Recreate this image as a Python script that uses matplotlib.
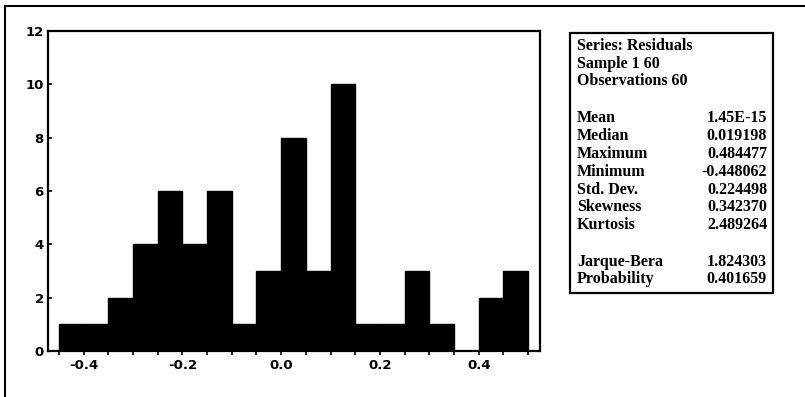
import matplotlib
matplotlib.use("Agg")
import matplotlib.pyplot as plt
from matplotlib.patches import Rectangle
from matplotlib.lines import Line2D

# Data
bin_edges = [-0.45, -0.40, -0.35, -0.30, -0.25, -0.20, -0.15, -0.10, -0.05, 0.00,
             0.05, 0.10, 0.15, 0.20, 0.25, 0.30, 0.35, 0.40, 0.45, 0.50]
counts = [1, 1, 2, 4, 6, 4, 6, 1, 3, 8, 3, 10, 1, 1, 3, 1, 0, 2, 3]
x_tick_labels = ["-0.4", "-0.2", "0.0", "0.2", "0.4"]
x_tick_values = [-0.4, -0.2, 0.0, 0.2, 0.4]
y_ticks = [0, 2, 4, 6, 8, 10, 12]

header_lines = ["Series: Residuals", "Sample 1 60", "Observations 60"]
stat_names = ["Mean", "Median", "Maximum", "Minimum", "Std. Dev.", "Skewness", "Kurtosis"]
stat_values = ["1.45E-15", "0.019198", "0.484477", "-0.448062", "0.224498", "0.342370", "2.489264"]
test_names = ["Jarque-Bera", "Probability"]
test_values = ["1.824303", "0.401659"]

W, H = 805, 397
fig = plt.figure(figsize=(W / 100, H / 100), dpi=100)
fig.patch.set_facecolor("white")

def fx(px):
    return px / W

def fy(py):
    return 1 - py / H

ax = fig.add_axes([fx(48), fy(351), fx(540) - fx(48), fy(31) - fy(351)])
widths = [bin_edges[i + 1] - bin_edges[i] for i in range(len(counts))]
ax.bar(bin_edges[:-1], counts, width=widths, align="edge", color="black",
       edgecolor="black", linewidth=1.0)
ax.set_xlim(-0.472, 0.524)
ax.set_ylim(0, 12)
ax.set_yticks(y_ticks)
ax.set_xticks(x_tick_values)
ax.set_xticklabels(x_tick_labels)
ax.set_xticks(bin_edges, minor=True)
for s in ax.spines.values():
    s.set_linewidth(1.6)
ax.tick_params(axis="x", which="both", direction="out", length=3, width=1.2, pad=3)
ax.tick_params(axis="y", which="both", direction="in", length=3, width=1.2, pad=3)
for lab in ax.get_xticklabels() + ax.get_yticklabels():
    lab.set_fontfamily("DejaVu Sans")
    lab.set_fontweight("bold")
    lab.set_fontsize(9.5)

# Outer frame
fig.add_artist(Line2D([fx(5), fx(5)], [fy(6), 0], color="black", lw=1.5))
fig.add_artist(Line2D([fx(5), 1], [fy(6), fy(6)], color="black", lw=1.5))

# Stats box
fig.add_artist(Rectangle((fx(570), fy(293)), fx(773) - fx(570), fy(33) - fy(293),
                         fill=False, edgecolor="black", lw=1.6, transform=fig.transFigure))

font = dict(family="Liberation Serif", weight="bold", size=11.5, va="center")
left_x = fx(577)
right_x = fx(767)
header_y = [46, 64, 81]
for t, y in zip(header_lines, header_y):
    fig.text(left_x, fy(y), t, ha="left", **font)
stat_y = [118, 136, 154, 172, 190, 207, 225]
for n, v, y in zip(stat_names, stat_values, stat_y):
    fig.text(left_x, fy(y), n, ha="left", **font)
    fig.text(right_x, fy(y), v, ha="right", **font)
test_y = [262, 279]
for n, v, y in zip(test_names, test_values, test_y):
    fig.text(left_x, fy(y), n, ha="left", **font)
    fig.text(right_x, fy(y), v, ha="right", **font)

fig.savefig("out.png", dpi=100, facecolor="white")
